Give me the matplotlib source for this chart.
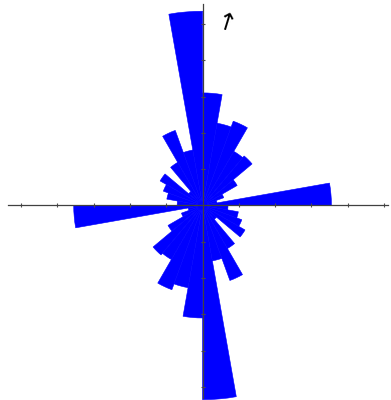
import numpy as np
import matplotlib
matplotlib.use("Agg")
import matplotlib.pyplot as plt
from matplotlib.patches import Wedge

# Rose diagram (axial data, 10 degree bins, mirrored through the centre)
bin_starts = np.arange(0, 180, 10)          # compass bearing of each bin start
bin_lengths = [3.1, 2.3, 2.47, 1.72, 1.78, 1.1, 0.62, 0.4, 3.55,
               0.7, 1.0, 1.15, 1.35, 0.5, 1.37, 2.2, 1.55, 5.35]
tick_values = [-5, -4, -3, -2, -1, 1, 2, 3, 4, 5]

fig = plt.figure(figsize=(3.91, 4.0), dpi=100)
ax = fig.add_axes([0, 0, 1, 1])

# Draw each bin and its mirror (bearing + 180)
for b0, r in zip(bin_starts, bin_lengths):
    for b in (b0, b0 + 180):
        # compass bearing (clockwise from north) -> math angle (ccw from east)
        w = Wedge((0, 0), r, 90 - (b + 10), 90 - b,
                  facecolor="#0000ff", edgecolor="#0000ff", linewidth=0.4,
                  zorder=1)
        ax.add_patch(w)

# Axes crossing at the centre
for side in ("top", "right"):
    ax.spines[side].set_visible(False)
ax.spines["left"].set_position("zero")
ax.spines["bottom"].set_position("zero")
ax.spines["bottom"].set_bounds(-5.35, 5.1)
ax.spines["left"].set_bounds(-5.3, 5.55)
for side in ("left", "bottom"):
    ax.spines[side].set_color("#404040")
    ax.spines[side].set_linewidth(0.9)
    ax.spines[side].set_zorder(3)

ax.set_xticks(tick_values)
ax.set_yticks(tick_values)
ax.tick_params(direction="inout", length=3.5, width=0.8, color="#505050",
               labelbottom=False, labelleft=False)

# North arrow
ax.text(0.63, 5.0, "\u2191", fontsize=17, rotation=-17,
        ha="center", va="center", color="black")

ax.set_xlim(-5.58, 5.19)
ax.set_ylim(-5.36, 5.66)
ax.set_aspect("equal", adjustable="box")

fig.savefig("out.png", dpi=100)
